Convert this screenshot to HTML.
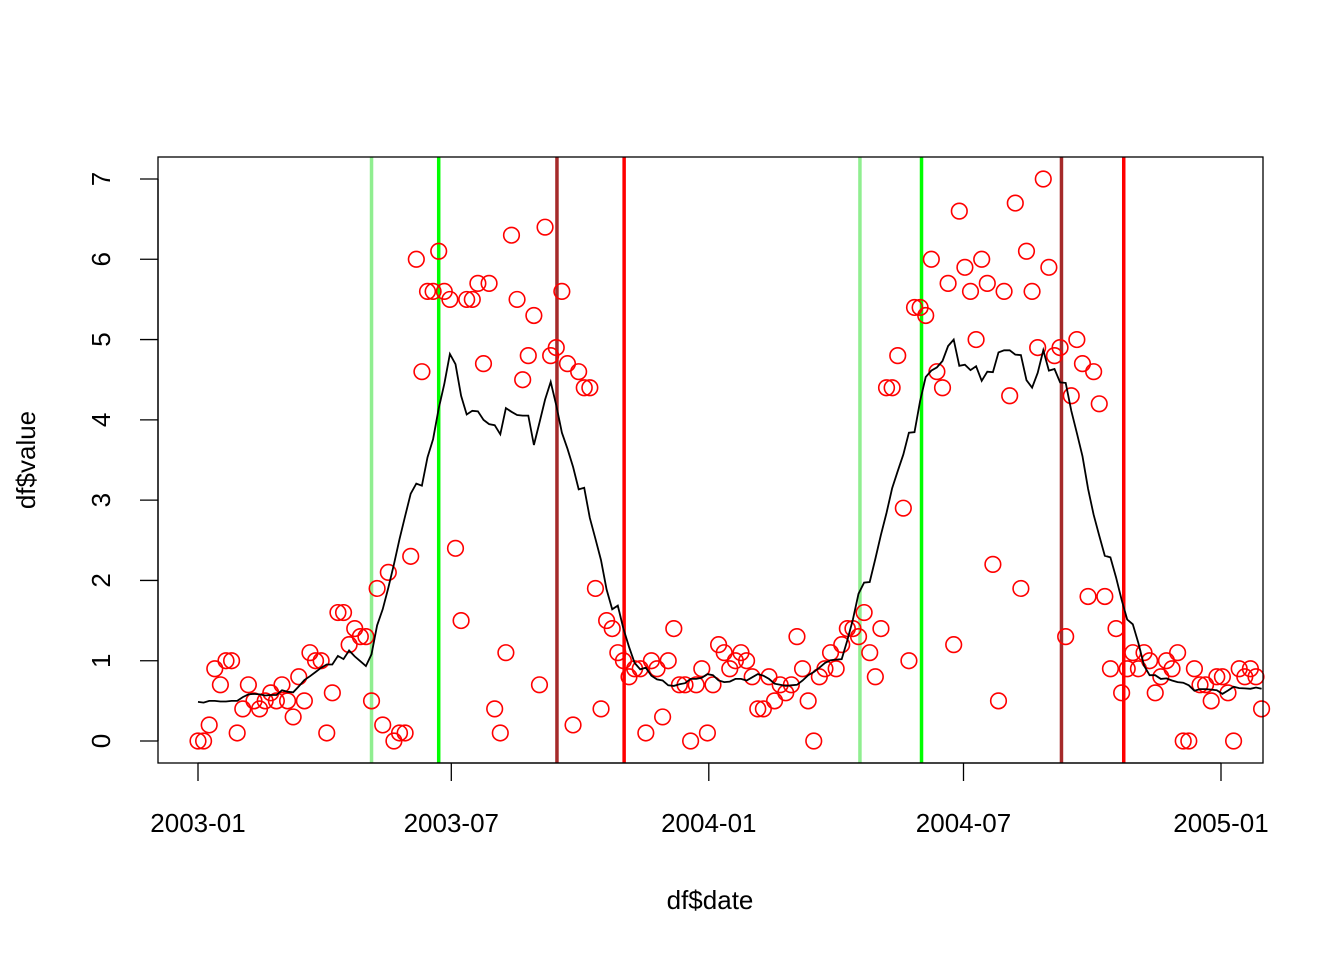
<!DOCTYPE html>
<html><head><meta charset="utf-8"><style>
body{margin:0;background:#fff}
svg{display:block;font-family:"Liberation Sans",Arial,sans-serif}
</style></head><body>
<svg id="chart" width="1344" height="960" viewBox="0 0 1344 960">
<rect x="0" y="0" width="1344" height="960" fill="#fff"/>
<g id="vlines"></g>
<g id="pts"></g>
<path id="smooth" fill="none" stroke="#000" stroke-width="1.8"/>
<rect x="158" y="157" width="1105" height="606" fill="none" stroke="#000" stroke-width="1.3"/>
<g id="axes"></g>
<text x="710" y="909" font-size="26" text-anchor="middle">df$date</text>
<text transform="translate(35,460) rotate(-90)" font-size="26" text-anchor="middle">df$value</text>
</svg>
<script>
const values = [0,0,0.2,0.9,0.7,1.0,1.0,0.1,0.4,0.7,0.5,0.4,0.5,0.6,0.5,0.7,0.5,0.3,0.8,0.5,1.1,1.0,1.0,0.1,0.6,1.6,1.6,1.2,1.4,1.3,1.3,0.5,
1.9,0.2,2.1,0,0.1,0.1,2.3,6.0,4.6,5.6,5.6,6.1,5.6,5.5,2.4,1.5,5.5,5.5,5.7,4.7,5.7,0.4,0.1,1.1,6.3,5.5,4.5,4.8,5.3,0.7,6.4,4.8,4.9,5.6,4.7,0.2,4.6,4.4,4.4,1.9,0.4,1.5,1.4,1.1,1.0,0.8,0.9,0.9,0.1,1.0,0.9,0.3,1.0,1.4,0.7,0.7,
0,0.7,0.9,0.1,0.7,1.2,1.1,0.9,1.0,1.1,1.0,0.8,0.4,0.4,0.8,0.5,0.7,0.6,0.7,1.3,0.9,0.5,0,0.8,0.9,1.1,0.9,1.2,1.4,1.4,1.3,1.6,1.1,0.8,1.4,
4.4,4.4,4.8,2.9,1.0,5.4,5.4,5.3,6.0,4.6,4.4,5.7,1.2,6.6,5.9,5.6,5.0,6.0,5.7,2.2,0.5,5.6,4.3,6.7,1.9,6.1,5.6,4.9,7.0,5.9,4.8,4.9,1.3,4.3,5.0,4.7,1.8,4.6,4.2,1.8,0.9,1.4,0.6,0.9,1.1,0.9,1.1,1.0,0.6,0.8,1.0,0.9,1.1,0,0,0.9,0.7,0.7,0.5,0.8,0.8,0.6,0,0.9,0.8,0.9,0.8,0.4];
const stepDays = 4; // observation interval in days from 2003-01-01
const eventDays = [124,172,256.5,304.5,473,517,617,661.5];
const eventColors = ["#90EE90","#00FF00","#A52A2A","#FF0000","#90EE90","#00FF00","#A52A2A","#FF0000"];
const xTickLabels = ["2003-01","2003-07","2004-01","2004-07","2005-01"];
const xTickDays = [0,181,365,547,731];
const yTicks = [0,1,2,3,4,5,6,7];
const windowHalf = 7;

const NS="http://www.w3.org/2000/svg";
const X = d => 198 + d*(1023/731);
const Y = v => 741 - v*(562/7);
function mk(tag, attrs, parent){const e=document.createElementNS(NS,tag);for(const k in attrs)e.setAttribute(k,attrs[k]);parent.appendChild(e);return e;}

const vl=document.getElementById('vlines');
eventDays.forEach((d,i)=>{
  const l=mk('line',{x1:X(d),x2:X(d),y1:157,y2:763,stroke:eventColors[i],'stroke-width':3.5},vl);
  
  
});
const pg=document.getElementById('pts');
values.forEach((v,i)=>{
  const x=X(i*stepDays);
  if(x>1268) return;
  const c=mk('circle',{cx:x,cy:Y(v),r:7.8,fill:'none',stroke:'#FF0000','stroke-width':1.6},pg);
  
  
});
let dpath='';
values.forEach((v,i)=>{
  let s=0,n=0;
  for(let j=i-windowHalf;j<=i+windowHalf;j++){if(j>=0&&j<values.length){s+=values[j];n++;}}
  const x=Math.min(X(i*stepDays),1263);
  dpath+=(i?'L':'M')+x.toFixed(1)+','+Y(s/n).toFixed(1);
});
document.getElementById('smooth').setAttribute('d',dpath);

const ax=document.getElementById('axes');
mk('line',{x1:X(xTickDays[0]),x2:X(xTickDays[xTickDays.length-1]),y1:763,y2:763,stroke:'#000','stroke-width':1.3},ax);
xTickDays.forEach((d,i)=>{
  mk('line',{x1:X(d),x2:X(d),y1:763,y2:781,stroke:'#000','stroke-width':1.3},ax);
  const t=mk('text',{x:X(d),y:832,'font-size':26,'text-anchor':'middle'},ax);
  t.textContent=xTickLabels[i];
  
  
});
mk('line',{x1:158,x2:158,y1:Y(0),y2:Y(7),stroke:'#000','stroke-width':1.3},ax);
yTicks.forEach(v=>{
  mk('line',{x1:140,x2:158,y1:Y(v),y2:Y(v),stroke:'#000','stroke-width':1.3},ax);
  const t=mk('text',{transform:`translate(110,${Y(v)}) rotate(-90)`,'font-size':26,'text-anchor':'middle'},ax);
  t.textContent=v;
  
  
});
</script>
</body></html>
